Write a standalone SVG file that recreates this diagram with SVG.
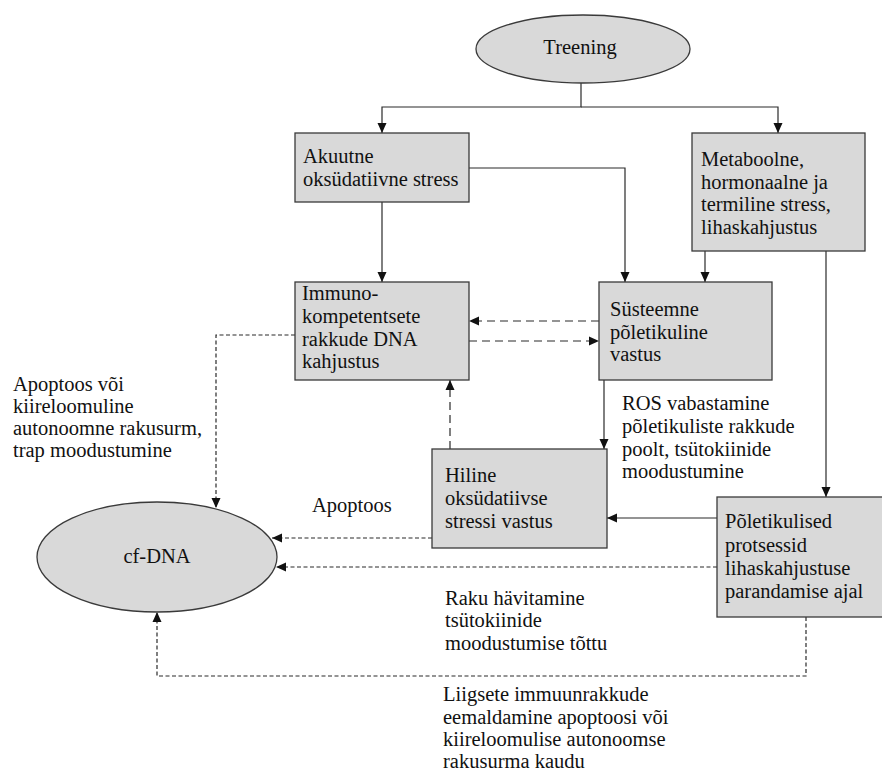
<svg xmlns="http://www.w3.org/2000/svg" width="882" height="774" viewBox="0 0 882 774">
<style>
.box{fill:#d9d9d9;stroke:#3a3a3a;stroke-width:1.3}
.t{font-family:"Liberation Serif","Times New Roman",serif;font-size:20.5px;fill:#111}
.c{fill:none;stroke:#2a2a2a;stroke-width:1.2}
.d1{stroke-dasharray:8,5}
.d2{stroke-dasharray:4,2.5}
</style>
<defs>
<marker id="ah" markerUnits="userSpaceOnUse" markerWidth="10" markerHeight="10" refX="10" refY="5" orient="auto" viewBox="0 0 10 10">
<path d="M0,0.5 L10,5 L0,9.5 z" fill="#111"/>
</marker>
</defs>
<g id="connectors">
<path class="c" d="M581,83 V107 H382 V133" marker-end="url(#ah)"/>
<path class="c" d="M581,107 H778 V133" marker-end="url(#ah)"/>
<path class="c" d="M382,202 V282" marker-end="url(#ah)"/>
<path class="c" d="M469,168 H625 V282" marker-end="url(#ah)"/>
<path class="c" d="M705,251 V282" marker-end="url(#ah)"/>
<path class="c" d="M826,251 V497" marker-end="url(#ah)"/>
<path class="c d1" d="M599,321 H469" marker-end="url(#ah)"/>
<path class="c d1" d="M469,341 H599" marker-end="url(#ah)"/>
<path class="c d2" d="M295,335 H216 V508" marker-end="url(#ah)"/>
<path class="c" d="M604,380 V449" marker-end="url(#ah)"/>
<path class="c d1" d="M450,449 V380" marker-end="url(#ah)"/>
<path class="c d2" d="M432,538 H272" marker-end="url(#ah)"/>
<path class="c" d="M717,518 H607" marker-end="url(#ah)"/>
<path class="c d2" d="M717,567 H276" marker-end="url(#ah)"/>
<path class="c d2" d="M806,617 V676 H157 V612" marker-end="url(#ah)"/>
</g>
<g id="treening">
<ellipse class="box" cx="583" cy="49" rx="107" ry="34"/>
<text class="t" x="580" y="54" text-anchor="middle">Treening</text>
</g>
<g id="akuutne">
<rect class="box" x="295" y="133" width="174" height="69"/>
<text class="t" x="303" y="163">Akuutne</text>
<text class="t" x="303" y="186">oksüdatiivne stress</text>
</g>
<g id="metaboolne">
<rect class="box" x="692" y="133" width="173" height="118"/>
<text class="t" x="701" y="166">Metaboolne,</text>
<text class="t" x="701" y="188.5">hormonaalne ja</text>
<text class="t" x="701" y="211">termiline stress,</text>
<text class="t" x="701" y="233.5">lihaskahjustus</text>
</g>
<g id="immuno">
<rect class="box" x="295" y="282" width="174" height="98"/>
<text class="t" x="302" y="300">Immuno-</text>
<text class="t" x="302" y="323">kompetentsete</text>
<text class="t" x="302" y="346">rakkude DNA</text>
<text class="t" x="302" y="368">kahjustus</text>
</g>
<g id="systeemne">
<rect class="box" x="599" y="282" width="173" height="98"/>
<text class="t" x="610" y="316">Süsteemne</text>
<text class="t" x="610" y="339">põletikuline</text>
<text class="t" x="610" y="361">vastus</text>
</g>
<g id="hiline">
<rect class="box" x="432" y="449" width="175" height="99"/>
<text class="t" x="445" y="482">Hiline</text>
<text class="t" x="445" y="505">oksüdatiivse</text>
<text class="t" x="445" y="528">stressi vastus</text>
</g>
<g id="poletikulised">
<rect class="box" x="717" y="497" width="170" height="120"/>
<text class="t" x="725" y="528">Põletikulised</text>
<text class="t" x="725" y="552">protsessid</text>
<text class="t" x="725" y="575">lihaskahjustuse</text>
<text class="t" x="725" y="598">parandamise ajal</text>
</g>
<g id="cfdna">
<ellipse class="box" cx="157" cy="557" rx="120" ry="55"/>
<text class="t" x="157" y="563" text-anchor="middle">cf-DNA</text>
</g>
<g id="labels">
<text class="t" x="13" y="391">Apoptoos või</text>
<text class="t" x="13" y="413">kiireloomuline</text>
<text class="t" x="13" y="435">autonoomne rakusurm,</text>
<text class="t" x="13" y="457">trap moodustumine</text>
<text class="t" x="622" y="410">ROS vabastamine</text>
<text class="t" x="622" y="433">põletikuliste rakkude</text>
<text class="t" x="622" y="456">poolt, tsütokiinide</text>
<text class="t" x="622" y="478">moodustumine</text>
<text class="t" x="312" y="512">Apoptoos</text>
<text class="t" x="445" y="605">Raku hävitamine</text>
<text class="t" x="445" y="627">tsütokiinide</text>
<text class="t" x="445" y="650">moodustumise tõttu</text>
<text class="t" x="443" y="701">Liigsete immuunrakkude</text>
<text class="t" x="443" y="724">eemaldamine apoptoosi või</text>
<text class="t" x="443" y="746">kiireloomulise autonoomse</text>
<text class="t" x="443" y="768">rakusurma kaudu</text>
</g>
</svg>
